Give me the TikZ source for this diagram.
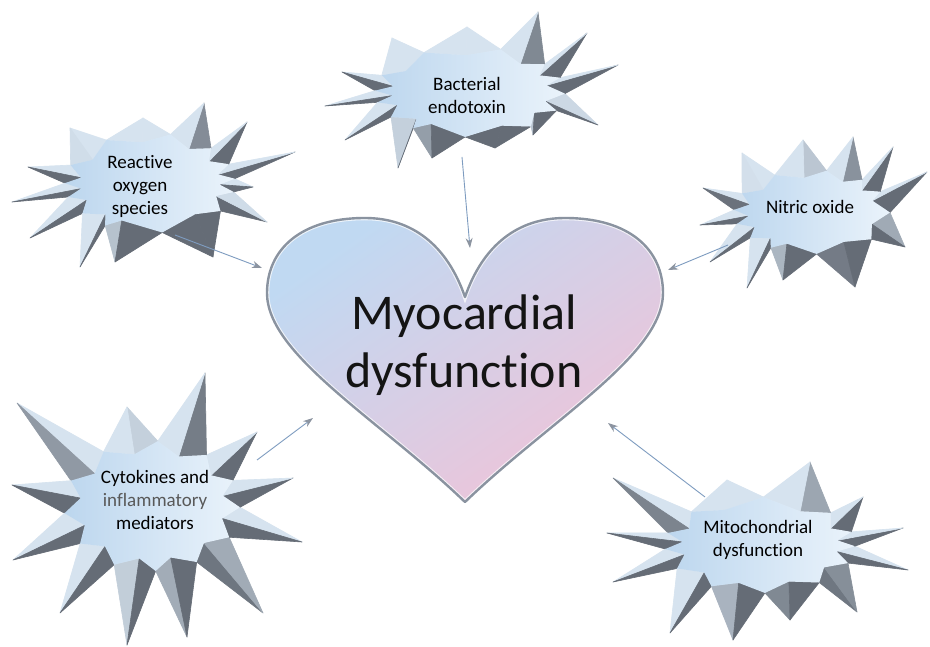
\documentclass[tikz,border=0pt]{standalone}
\usepackage{fontspec}
\setmainfont{Carlito}[Ligatures=NoCommon]
\usetikzlibrary{arrows.meta}
\definecolor{lf}{HTML}{D6E3EF}
\definecolor{df}{HTML}{656C76}
\definecolor{starA}{HTML}{BCD6EE}
\definecolor{starB}{HTML}{EAF3FB}
\definecolor{heartblue}{HTML}{C0D9F2}
\definecolor{heartmid}{HTML}{D3D0EA}
\definecolor{heartpink}{HTML}{EFC3D8}
\definecolor{heartedge}{HTML}{8A93A0}
\definecolor{arrowc}{HTML}{7E9CC0}
\definecolor{tipc}{HTML}{8C94A0}
\definecolor{midgray}{HTML}{595959}
\tikzset{
 lbl/.style={font=\fontsize{19}{23}\selectfont, align=center, text=black, inner sep=0pt},
 big/.style={font=\fontsize{50}{58}\selectfont, align=center, text=black!92, inner sep=0pt},
 conn/.style={draw=arrowc, line width=0.9pt, -{Stealth[length=10pt,width=7pt,color=tipc]}},
 facefill/.style={fill=lf!#1!df, draw=lf!#1!df, line width=0.6pt, line join=round},
 starface/.style={left color=starA, right color=starB},
 heartpath/.style={insert path={(465,349) .. controls (447,401) and (412,428) .. (365,428)
   .. controls (300,428) and (267,396) .. (267,353)
   .. controls (267,291) and (380,226) .. (465,144)
   .. controls (550,226) and (663,291) .. (663,353)
   .. controls (663,396) and (630,428) .. (565,428)
   .. controls (518,428) and (483,401) .. (465,349) -- cycle}},
}
% #1 name, #2 cx, #3 cy, #4 ax, #5 ay, #6 last tip x, #7 last tip y, #8 tips x/y (ccw)
\newcommand\burst[8]{%
 \def\zcx{#2}\def\zcy{#3}\def\zax{#4}\def\zay{#5}%
 \foreach \ztx/\zty [count=\zi, remember=\ztx as \zpx (initially #6), remember=\zty as \zpy (initially #7)] in {#8} {
  \pgfmathsetmacro\zap{atan2(\zpy-\zcy,\zpx-\zcx)}
  \pgfmathsetmacro\zat{atan2(\zty-\zcy,\ztx-\zcx)}
  \pgfmathsetmacro\zam{\zap+mod(\zat-\zap+720,360)/2}
  \pgfmathsetmacro\zvx{\zcx+\zax*cos(\zam)}
  \pgfmathsetmacro\zvy{\zcy+\zay*sin(\zam)}
  \pgfmathsetmacro\zrpx{\zcx+0.82*\zax*cos(\zap)}
  \pgfmathsetmacro\zrpy{\zcy+0.82*\zay*sin(\zap)}
  \pgfmathsetmacro\zrtx{\zcx+0.82*\zax*cos(\zat)}
  \pgfmathsetmacro\zrty{\zcy+0.82*\zay*sin(\zat)}
  \pgfmathsetmacro\zna{atan2(\zvy-\zpy,\zvx-\zpx)-90}
  \pgfmathtruncatemacro\zpa{max(0,min(100,55+100*cos(\zna-115)))}
  \pgfmathsetmacro\znb{atan2(\zty-\zvy,\ztx-\zvx)-90}
  \pgfmathtruncatemacro\zpb{max(0,min(100,55+100*cos(\znb-115)))}
  \coordinate (#1-v\zi) at (\zvx,\zvy);
  \coordinate (#1-r\zi) at (\zrtx,\zrty);
  \filldraw[facefill=\zpa] (\zpx,\zpy) -- (\zvx,\zvy) -- (\zrpx,\zrpy) -- cycle;
  \filldraw[facefill=\zpb] (\zvx,\zvy) -- (\ztx,\zty) -- (\zrtx,\zrty) -- cycle;
  \xdef\zn{\zi}
 }
 \shade[starface] (#1-v1) \foreach \zj in {1,...,\zn} { -- (#1-v\zj) -- (#1-r\zj) } -- cycle;
}
\begin{document}
\begin{tikzpicture}[x=1pt,y=1pt]
\useasboundingbox (0,0) rectangle (930,646);
\fill[white] (0,0) rectangle (930,646);

% starbursts
\burst{ros}{150}{463}{85}{50}{253}{459}{295/494, 247/524, 204/543, 143/528, 70/518, 28/479, 12/444, 30/408, 80/379, 115/384, 213/389, 267/424, 253/459}
\burst{bac}{470}{554}{95}{45}{598}{521}{618/581, 587/613, 538/634, 467/619, 392/608, 342/574, 325/540, 345/506, 398/478, 432/488, 495/498, 533/511, 598/521}
\burst{no}{812}{434}{78}{42}{905}{399}{927/474, 893/499, 853/509, 803/506, 742/493, 703/458, 700/421, 710/384, 747/358, 783/366, 855/359, 905/399}
\burst{cyt}{152}{140}{88}{65}{302}{104}{293/168, 257/214, 205/273, 127/239, 17/243, 12/161, 13/86, 60/33, 127/1, 187/9, 263/33, 302/104}
\burst{mit}{760}{101}{95}{48}{908}{76}{903/118, 863/149, 810/184, 727/166, 613/168, 607/113, 613/64, 670/13, 733/6, 790/26, 857/34, 908/76}

% heart
\shade[heartpath, left color=heartblue, middle color=heartmid, right color=heartpink, shading angle=35];
\begin{scope}
 \clip[heartpath];
 \draw[heartpath, white, opacity=.75, line width=4.5pt];
\end{scope}
\draw[heartpath, heartedge, line width=2.4pt, line join=round];

% labels
\node[lbl] (ros) at (140,460) {Reactive\\oxygen\\species};
\node[lbl] (bac) at (467,551) {Bacterial\\endotoxin};
\node[lbl] (no) at (810,439) {Nitric oxide};
\node[lbl] (cyt) at (155,146) {Cytokines and\\{\color{midgray}inflammatory}\\mediators};
\node[lbl] (mit) at (758,106) {Mitochondrial\\dysfunction};
\node[big] (heart) at (464,301) {Myocardial\\dysfunction};

% connectors
\coordinate (ros-s) at (175,411); \coordinate (ros-e) at (262,378);
\coordinate (bac-s) at (462,489); \coordinate (bac-e) at (470,398);
\coordinate (no-s) at (728,401);  \coordinate (no-e) at (668,376);
\coordinate (cyt-s) at (257,186); \coordinate (cyt-e) at (313,228);
\coordinate (mit-s) at (705,149); \coordinate (mit-e) at (608,223);
\draw[conn] (ros-s) -- (ros-e);
\draw[conn] (bac-s) -- (bac-e);
\draw[conn] (no-s) -- (no-e);
\draw[conn] (cyt-s) -- (cyt-e);
\draw[conn] (mit-s) -- (mit-e);
\end{tikzpicture}
\end{document}
